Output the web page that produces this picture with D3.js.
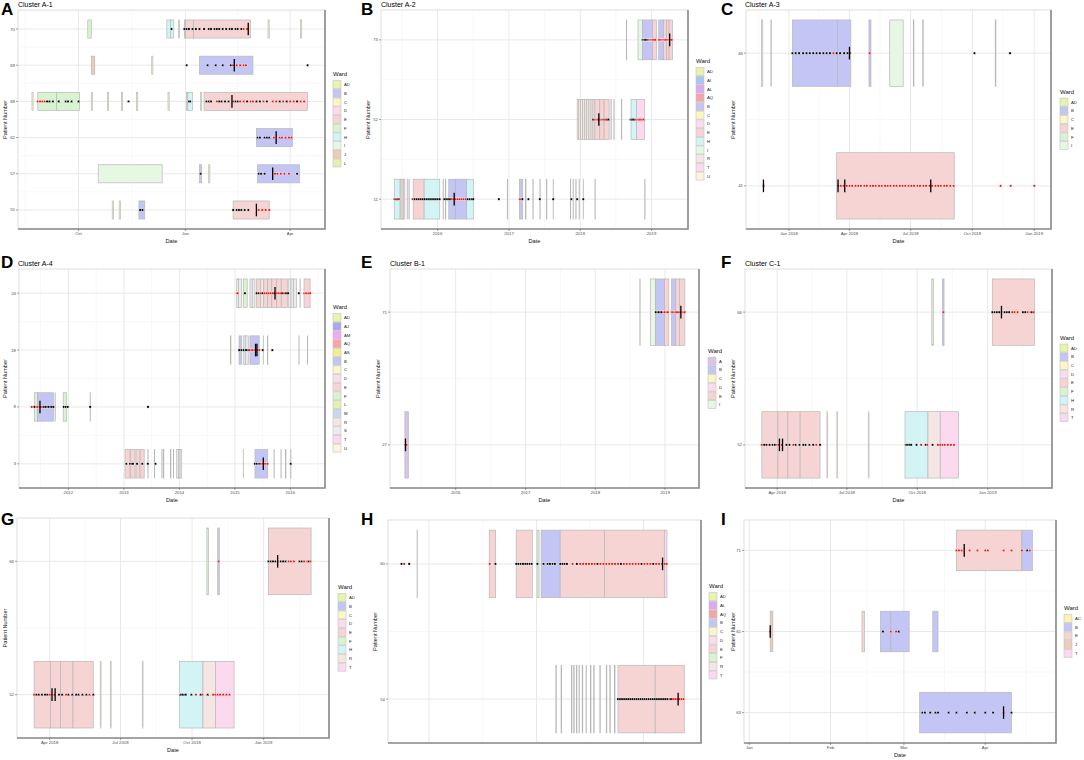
<!DOCTYPE html>
<html>
<head>
<meta charset="utf-8">
<script src="https://d3js.org/d3.v7.min.js"></script>
<style>
  body { margin: 0; background: #fff; }
  svg { font-family: "Liberation Sans", Arial, sans-serif; }
</style>
</head>
<body>
<svg id="svg" width="1084" height="760"></svg>
<script>
// ---------- data ----------
// stays: [patient, ward, start, end]; tests: [patient, date, positive]; seq: [patient, date]

const patientsA = ["70", "69", "68", "62", "57", "55"];
const wardsA = ["AD", "B", "C", "D", "E", "F", "H", "I", "J", "L"];
const ticksA = ["2018-10-01", "2019-01-01", "2019-04-01"];
const tickLabelsA = ["Oct", "Jan", "Apr"];
const limitsA = ["2018-08-10", "2019-05-01"];
const staysA = [
  ["70","F","2018-10-09","2018-10-12"],["70","H","2018-12-16","2018-12-19"],["70","H","2018-12-19","2018-12-22"],
  ["70","C","2018-12-26","2018-12-27"],["70","B","2018-12-31","2019-01-01"],["70","E","2019-01-01","2019-01-08"],
  ["70","E","2019-01-08","2019-02-26"],["70","C","2019-03-13","2019-03-14"],["70","C","2019-04-10","2019-04-11"],
  ["69","J","2018-10-12","2018-10-15"],["69","C","2018-12-03","2018-12-04"],["69","B","2019-01-13","2019-02-28"],
  ["68","C","2018-08-22","2018-08-23"],["68","F","2018-08-27","2018-09-12"],["68","F","2018-09-12","2018-10-02"],
  ["68","C","2018-10-12","2018-10-13"],["68","C","2018-10-26","2018-10-27"],["68","C","2018-11-07","2018-11-08"],
  ["68","C","2018-11-20","2018-11-21"],["68","C","2018-12-17","2018-12-18"],["68","AD","2019-01-02","2019-01-03"],
  ["68","H","2019-01-03","2019-01-07"],["68","C","2019-01-14","2019-01-15"],["68","E","2019-01-17","2019-04-16"],
  ["62","B","2019-03-03","2019-04-03"],
  ["57","I","2018-10-18","2018-12-12"],["57","B","2019-01-13","2019-01-15"],["57","C","2019-01-21","2019-01-22"],
  ["57","B","2019-03-04","2019-04-09"],
  ["55","C","2018-10-30","2018-10-31"],["55","C","2018-11-05","2018-11-06"],["55","B","2018-11-22","2018-11-27"],
  ["55","E","2019-02-11","2019-03-14"]
];
const testsA = [
  ["70","2018-12-20",0],["70","2018-12-31",0],["70","2019-01-02",0],["70","2019-01-04",0],["70","2019-01-07",0],
  ["70","2019-01-10",0],["70","2019-01-13",0],["70","2019-01-17",0],["70","2019-01-21",0],["70","2019-01-23",0],
  ["70","2019-01-26",0],["70","2019-01-28",0],["70","2019-01-30",0],["70","2019-02-02",0],["70","2019-02-05",0],
  ["70","2019-02-08",0],["70","2019-02-10",0],["70","2019-02-13",0],["70","2019-02-15",0],["70","2019-02-18",0],
  ["70","2019-02-20",1],["70","2019-02-23",1],
  ["69","2019-01-02",0],["69","2019-01-20",0],["69","2019-01-27",0],["69","2019-02-02",0],["69","2019-02-09",0],
  ["69","2019-02-11",1],["69","2019-02-14",1],["69","2019-02-17",1],["69","2019-02-20",1],["69","2019-02-22",1],
  ["69","2019-04-16",0],
  ["68","2018-08-27",1],["68","2018-08-29",1],["68","2018-08-31",1],["68","2018-09-02",1],["68","2018-09-04",0],
  ["68","2018-09-06",0],["68","2018-09-09",0],["68","2018-09-14",0],["68","2018-09-20",0],["68","2018-09-22",0],
  ["68","2018-09-25",0],["68","2018-10-01",0],["68","2018-11-13",0],["68","2019-01-04",0],["68","2019-01-05",0],
  ["68","2019-01-19",0],["68","2019-01-21",0],["68","2019-01-23",0],["68","2019-01-28",1],["68","2019-01-30",0],
  ["68","2019-02-01",0],["68","2019-02-04",0],["68","2019-02-07",0],["68","2019-02-11",1],["68","2019-02-13",0],
  ["68","2019-02-15",0],["68","2019-02-17",1],["68","2019-02-20",1],["68","2019-02-23",0],["68","2019-02-26",1],
  ["68","2019-02-28",1],["68","2019-03-03",0],["68","2019-03-06",0],["68","2019-03-09",1],["68","2019-03-12",0],
  ["68","2019-03-17",1],["68","2019-03-20",1],["68","2019-03-23",0],["68","2019-03-26",1],["68","2019-03-29",0],
  ["68","2019-04-01",1],["68","2019-04-04",1],["68","2019-04-07",0],["68","2019-04-10",1],["68","2019-04-13",1],
  ["62","2019-03-04",0],["62","2019-03-06",0],["62","2019-03-10",0],["62","2019-03-12",0],["62","2019-03-14",0],
  ["62","2019-03-18",1],["62","2019-03-23",1],["62","2019-03-25",1],["62","2019-03-28",1],["62","2019-03-31",1],
  ["62","2019-04-02",1],
  ["57","2019-01-14",0],["57","2019-03-05",0],["57","2019-03-07",0],["57","2019-03-10",0],["57","2019-03-19",1],
  ["57","2019-03-21",1],["57","2019-03-24",1],["57","2019-03-27",1],["57","2019-03-31",1],["57","2019-04-07",0],
  ["55","2018-11-23",0],["55","2018-11-25",0],["55","2019-02-11",0],["55","2019-02-14",0],["55","2019-02-16",0],
  ["55","2019-02-18",0],["55","2019-02-21",0],["55","2019-02-24",0],["55","2019-03-05",1],["55","2019-03-08",1],
  ["55","2019-03-11",1],["55","2019-03-14",1]
];
const seqA = [["70","2019-02-24"],["69","2019-02-12"],["68","2019-02-10"],["62","2019-03-20"],["57","2019-03-17"],["55","2019-03-03"]];

const patientsB = ["73", "52", "11"];
const wardsB = ["AD", "AI", "AL", "AQ", "B", "C", "D", "E", "H", "I", "R", "T", "U"];
const ticksB = ["2016-01-01", "2017-01-01", "2018-01-01", "2019-01-01"];
const tickLabelsB = ["2016", "2017", "2018", "2019"];
const limitsB = ["2015-03-17", "2019-07-07"];
const staysB = [
  ["73","R","2018-08-25","2018-08-27"],["73","I","2018-10-24","2018-11-15"],["73","B","2018-11-15","2019-01-06"],
  ["73","E","2019-01-06","2019-01-26"],["73","B","2019-02-07","2019-03-04"],["73","E","2019-03-04","2019-03-20"],
  ["73","E","2019-03-20","2019-04-01"],["73","E","2019-04-01","2019-04-18"],
  ["52","R","2017-12-16","2017-12-24"],["52","R","2017-12-24","2018-01-03"],["52","R","2018-01-03","2018-01-13"],
  ["52","R","2018-01-13","2018-01-24"],["52","R","2018-01-24","2018-02-03"],["52","R","2018-02-03","2018-02-14"],
  ["52","R","2018-02-14","2018-02-25"],["52","R","2018-02-25","2018-03-07"],["52","R","2018-03-07","2018-03-17"],
  ["52","E","2018-03-17","2018-04-11"],["52","E","2018-04-11","2018-05-03"],["52","E","2018-05-03","2018-05-29"],
  ["52","R","2018-06-07","2018-06-09"],["52","R","2018-06-22","2018-06-24"],["52","R","2018-07-31","2018-08-02"],
  ["52","H","2018-09-18","2018-10-16"],["52","T","2018-10-16","2018-11-27"],
  ["11","H","2015-05-24","2015-06-22"],["11","R","2015-06-25","2015-07-03"],["11","R","2015-07-03","2015-07-10"],
  ["11","R","2015-07-10","2015-07-17"],["11","R","2015-07-29","2015-07-31"],["11","R","2015-08-07","2015-08-09"],
  ["11","E","2015-08-29","2015-10-24"],["11","H","2015-10-24","2016-01-12"],["11","R","2016-01-29","2016-01-31"],
  ["11","R","2016-02-10","2016-02-12"],["11","B","2016-02-27","2016-04-02"],["11","B","2016-04-02","2016-05-29"],
  ["11","H","2016-05-29","2016-07-02"],["11","R","2016-12-23","2016-12-25"],["11","B","2017-02-23","2017-03-12"],
  ["11","R","2017-03-27","2017-03-29"],["11","R","2017-05-03","2017-05-05"],["11","R","2017-06-08","2017-06-10"],
  ["11","R","2017-07-12","2017-07-14"],["11","R","2017-08-15","2017-08-17"],["11","R","2017-11-11","2017-11-13"],
  ["11","R","2017-11-25","2017-11-27"],["11","R","2017-12-09","2017-12-11"],["11","R","2017-12-26","2017-12-28"],
  ["11","R","2018-01-16","2018-01-18"],["11","R","2018-03-17","2018-03-19"],["11","R","2018-11-27","2018-11-29"]
];
const testsB = [
  ["73","2018-11-16",0],["73","2018-11-22",0],["73","2018-11-28",0],["73","2018-12-04",0],["73","2018-12-10",0],
  ["73","2018-12-16",0],["73","2018-12-21",1],["73","2018-12-27",1],["73","2019-01-02",1],["73","2019-01-08",1],
  ["73","2019-01-14",1],["73","2019-01-20",1],["73","2019-02-08",1],["73","2019-02-14",1],["73","2019-02-20",1],
  ["73","2019-02-26",1],["73","2019-03-04",1],["73","2019-03-10",1],["73","2019-03-16",1],["73","2019-03-22",1],
  ["73","2019-03-28",1],["73","2019-04-03",1],["73","2019-04-09",1],["73","2019-04-15",1],
  ["52","2018-03-08",0],["52","2018-03-14",0],["52","2018-03-20",1],["52","2018-03-26",1],["52","2018-04-01",1],
  ["52","2018-04-07",0],["52","2018-04-13",1],["52","2018-04-19",1],["52","2018-04-25",1],["52","2018-05-01",0],
  ["52","2018-05-07",1],["52","2018-05-13",1],["52","2018-05-19",0],["52","2018-05-25",0],["52","2018-09-16",0],
  ["52","2018-09-22",0],["52","2018-09-28",0],["52","2018-10-04",0],["52","2018-10-10",0],["52","2018-10-16",1],
  ["52","2018-10-22",1],["52","2018-10-28",1],["52","2018-11-03",1],["52","2018-11-09",1],["52","2018-11-15",1],
  ["52","2018-11-21",1],
  ["11","2015-05-24",1],["11","2015-05-30",0],["11","2015-06-05",0],["11","2015-06-11",0],["11","2015-06-17",1],
  ["11","2015-08-26",1],["11","2015-09-05",0],["11","2015-09-15",0],["11","2015-09-25",0],["11","2015-10-05",0],
  ["11","2015-10-15",0],["11","2015-10-25",0],["11","2015-11-04",0],["11","2015-11-14",0],["11","2015-11-24",0],
  ["11","2015-12-04",0],["11","2015-12-14",0],["11","2015-12-24",0],["11","2016-01-03",0],["11","2016-01-12",0],
  ["11","2016-02-04",0],["11","2016-02-14",0],["11","2016-02-24",0],["11","2016-03-05",0],["11","2016-03-15",1],
  ["11","2016-03-25",1],["11","2016-04-04",1],["11","2016-04-14",1],["11","2016-04-24",1],["11","2016-05-04",1],
  ["11","2016-05-14",1],["11","2016-05-24",1],["11","2016-06-03",0],["11","2016-06-13",0],["11","2016-06-23",0],
  ["11","2016-07-01",0],["11","2016-11-10",0],["11","2017-02-25",1],["11","2017-03-04",1],["11","2017-03-10",0],
  ["11","2017-04-10",0],["11","2017-06-08",0],["11","2017-08-15",0],["11","2017-11-16",0],["11","2017-12-16",0],
  ["11","2018-01-16",0]
];
const seqB = [["73","2019-04-04"],["52","2018-04-06"],["11","2016-03-26"]];

const patientsC = ["46", "41"];
const wardsC = ["AD", "B", "C", "E", "F", "I"];
const ticksC = ["2018-01-01", "2018-04-01", "2018-07-01", "2018-10-01", "2019-01-01"];
const tickLabelsC = ["Jan 2018", "Apr 2018", "Jul 2018", "Oct 2018", "Jan 2019"];
const limitsC = ["2017-10-29", "2019-01-26"];
const staysC = [
  ["46","F","2017-11-21","2017-11-23"],["46","C","2017-12-05","2017-12-06"],["46","B","2018-01-06","2018-03-14"],
  ["46","B","2018-03-14","2018-04-03"],["46","B","2018-04-30","2018-05-03"],["46","I","2018-05-31","2018-06-20"],
  ["46","C","2018-07-05","2018-07-06"],["46","C","2018-07-19","2018-07-20"],["46","C","2018-11-04","2018-11-05"],
  ["41","E","2018-03-13","2018-09-04"]
];
const testsC = [
  ["46","2018-01-06",0],["46","2018-01-11",0],["46","2018-01-16",0],["46","2018-01-22",0],["46","2018-01-27",0],
  ["46","2018-02-01",0],["46","2018-02-06",0],["46","2018-02-11",0],["46","2018-02-16",0],["46","2018-02-21",0],
  ["46","2018-02-26",0],["46","2018-03-03",0],["46","2018-03-08",1],["46","2018-03-13",0],["46","2018-03-18",0],
  ["46","2018-03-24",0],["46","2018-03-29",0],["46","2018-04-02",1],["46","2018-05-01",1],["46","2018-10-04",0],
  ["46","2018-11-26",0],
  ["41","2017-11-24",1],["41","2018-03-15",1],["41","2018-03-19",1],["41","2018-03-23",1],["41","2018-03-28",1],
  ["41","2018-04-01",1],["41","2018-04-05",1],["41","2018-04-10",1],["41","2018-04-14",1],["41","2018-04-18",1],
  ["41","2018-04-23",1],["41","2018-04-27",1],["41","2018-05-02",1],["41","2018-05-06",1],["41","2018-05-10",1],
  ["41","2018-05-15",1],["41","2018-05-19",1],["41","2018-05-24",1],["41","2018-05-28",1],["41","2018-06-01",1],
  ["41","2018-06-06",1],["41","2018-06-10",1],["41","2018-06-15",1],["41","2018-06-19",1],["41","2018-06-23",1],
  ["41","2018-06-28",1],["41","2018-07-02",1],["41","2018-07-06",1],["41","2018-07-11",1],["41","2018-07-15",1],
  ["41","2018-07-20",1],["41","2018-07-24",1],["41","2018-07-29",1],["41","2018-08-02",1],["41","2018-08-07",1],
  ["41","2018-08-11",1],["41","2018-08-15",1],["41","2018-08-20",1],["41","2018-08-24",1],["41","2018-08-29",1],
  ["41","2018-09-03",1],["41","2018-11-12",1],["41","2018-11-27",1],["41","2019-01-01",1]
];
const seqC = [["46","2018-04-01"],["41","2017-11-24"],["41","2018-03-15"],["41","2018-03-25"],["41","2018-07-31"]];

const patientsD = ["24", "18", "8", "3"];
const wardsD = ["AD", "AJ", "AM", "AQ", "AS", "B", "C", "D", "E", "F", "L", "M", "R", "S", "T", "U"];
const ticksD = ["2012-01-01", "2013-01-01", "2014-01-01", "2015-01-01", "2016-01-01"];
const tickLabelsD = ["2012", "2013", "2014", "2015", "2016"];
const limitsD = ["2011-02-10", "2016-08-16"];
const staysD = [
  ["24","S","2015-01-13","2015-01-25"],["24","S","2015-01-25","2015-02-14"],["24","F","2015-02-25","2015-03-23"],
  ["24","S","2015-04-10","2015-04-25"],["24","S","2015-04-25","2015-05-13"],["24","E","2015-05-24","2015-06-20"],
  ["24","R","2015-06-20","2015-07-10"],["24","E","2015-07-10","2015-08-05"],["24","E","2015-08-05","2015-09-01"],
  ["24","E","2015-09-01","2015-10-01"],["24","E","2015-10-01","2015-11-02"],["24","E","2015-11-02","2015-12-12"],
  ["24","S","2015-12-18","2016-01-05"],["24","S","2016-01-05","2016-01-20"],["24","S","2016-01-22","2016-02-11"],
  ["24","S","2016-03-04","2016-03-06"],["24","E","2016-03-31","2016-05-10"],
  ["18","S","2014-12-04","2014-12-06"],["18","B","2015-01-28","2015-02-14"],["18","S","2015-02-25","2015-03-10"],
  ["18","S","2015-03-12","2015-03-30"],["18","B","2015-04-10","2015-06-10"],["18","S","2015-07-07","2015-07-09"],
  ["18","S","2015-08-04","2015-08-06"],["18","S","2016-02-26","2016-02-28"],["18","S","2016-04-22","2016-04-24"],
  ["8","F","2011-05-22","2011-06-13"],["8","B","2011-06-13","2011-09-24"],["8","S","2011-10-05","2011-10-07"],
  ["8","F","2011-11-28","2011-12-21"],["8","S","2012-05-23","2012-05-25"],
  ["3","E","2013-01-08","2013-02-10"],["3","E","2013-02-14","2013-03-15"],["3","E","2013-03-21","2013-04-13"],
  ["3","E","2013-04-21","2013-05-14"],["3","S","2013-06-07","2013-06-09"],["3","S","2013-07-20","2013-07-22"],
  ["3","S","2013-09-07","2013-09-09"],["3","S","2013-09-18","2013-09-20"],["3","S","2013-11-04","2013-11-06"],
  ["3","S","2013-11-22","2013-11-24"],["3","S","2013-12-14","2013-12-25"],["3","S","2013-12-25","2014-01-05"],
  ["3","S","2014-01-05","2014-01-16"],["3","S","2015-02-25","2015-02-27"],["3","B","2015-05-13","2015-08-05"],
  ["3","S","2015-09-15","2015-09-17"],["3","S","2015-10-31","2015-11-02"],["3","S","2015-12-01","2015-12-03"],
  ["3","S","2016-01-03","2016-01-05"]
];
const testsD = [
  ["24","2015-01-13",1],["24","2015-01-20",1],["24","2015-03-08",0],["24","2015-05-24",0],["24","2015-06-05",0],
  ["24","2015-06-18",1],["24","2015-07-01",0],["24","2015-07-14",1],["24","2015-07-27",1],["24","2015-08-09",1],
  ["24","2015-08-22",1],["24","2015-09-04",1],["24","2015-09-17",0],["24","2015-09-30",1],["24","2015-10-13",1],
  ["24","2015-10-26",1],["24","2015-11-08",0],["24","2015-11-21",1],["24","2015-12-04",0],["24","2015-12-17",0],
  ["24","2016-02-26",0],["24","2016-04-01",1],["24","2016-04-10",1],["24","2016-04-20",1],["24","2016-05-01",1],
  ["24","2016-05-10",1],
  ["18","2015-01-29",0],["18","2015-02-12",0],["18","2015-02-27",0],["18","2015-03-15",0],["18","2015-03-30",0],
  ["18","2015-04-10",1],["18","2015-04-20",1],["18","2015-04-30",1],["18","2015-05-10",1],["18","2015-05-20",1],
  ["18","2015-05-30",1],["18","2015-06-10",1],["18","2015-07-03",0],["18","2015-09-04",0],
  ["8","2011-05-05",1],["8","2011-05-15",1],["8","2011-05-25",0],["8","2011-06-05",1],["8","2011-06-15",1],
  ["8","2011-06-25",1],["8","2011-07-05",0],["8","2011-07-15",1],["8","2011-07-25",0],["8","2011-08-05",0],
  ["8","2011-08-15",0],["8","2011-08-25",0],["8","2011-09-05",0],["8","2011-09-15",0],["8","2011-09-24",0],
  ["8","2011-12-02",0],["8","2011-12-15",0],["8","2011-12-28",0],["8","2012-05-23",0],["8","2013-06-08",0],
  ["3","2013-01-16",0],["3","2013-02-10",0],["3","2013-02-22",0],["3","2013-03-01",0],["3","2013-03-28",0],
  ["3","2013-05-01",0],["3","2013-06-07",0],["3","2013-07-27",0],["3","2015-05-13",0],["3","2015-05-24",0],
  ["3","2015-06-04",0],["3","2015-06-12",0],["3","2015-06-22",1],["3","2015-07-03",1],["3","2015-07-14",1],
  ["3","2015-07-25",1],["3","2015-08-03",1],["3","2016-01-03",0]
];
const seqD = [["24","2015-09-22"],["18","2015-05-17"],["18","2015-05-26"],["8","2011-06-28"],["3","2015-07-07"]];

const patientsE = ["71", "27"];
const wardsE = ["A", "B", "C", "D", "E", "I"];
const ticksE = ["2016-01-01", "2017-01-01", "2018-01-01", "2019-01-01"];
const tickLabelsE = ["2016", "2017", "2018", "2019"];
const limitsE = ["2015-01-22", "2019-06-28"];
const staysE = [
  ["71","C","2018-08-22","2018-08-24"],["71","I","2018-10-17","2018-11-13"],["71","B","2018-11-13","2018-12-30"],
  ["71","E","2018-12-30","2019-01-21"],["71","B","2019-02-04","2019-02-26"],["71","E","2019-02-26","2019-03-18"],
  ["71","E","2019-03-18","2019-04-15"],
  ["27","A","2015-04-10","2015-04-28"]
];
const testsE = [
  ["71","2018-11-14",0],["71","2018-11-22",0],["71","2018-11-30",0],["71","2018-12-08",0],["71","2018-12-16",0],
  ["71","2018-12-24",1],["71","2018-12-31",1],["71","2019-01-08",1],["71","2019-01-16",1],["71","2019-02-05",1],
  ["71","2019-02-12",1],["71","2019-02-19",1],["71","2019-02-26",1],["71","2019-03-05",1],["71","2019-03-12",0],
  ["71","2019-03-19",1],["71","2019-03-26",1],["71","2019-04-02",1],["71","2019-04-09",1],["71","2019-04-14",1],
  ["27","2015-04-12",1],["27","2015-04-18",1]
];
const seqE = [["71","2019-03-25"],["27","2015-04-13"]];

// cluster C-1 (panels F and G show the same patients)
const patientsF = ["66", "52"];
const wardsF = ["AD", "B", "C", "D", "E", "F", "H", "R", "T"];
const ticksF = ["2018-04-01", "2018-07-01", "2018-10-01", "2019-01-01"];
const tickLabelsF = ["Apr 2018", "Jul 2018", "Oct 2018", "Jan 2019"];
const limitsF = ["2018-02-18", "2019-03-26"];
const staysF = [
  ["66","F","2018-10-20","2018-10-22"],["66","B","2018-11-03","2018-11-05"],["66","E","2019-01-07","2019-03-03"],
  ["52","E","2018-03-12","2018-04-02"],["52","E","2018-04-02","2018-04-15"],["52","E","2018-04-15","2018-05-01"],
  ["52","E","2018-05-01","2018-05-27"],["52","C","2018-06-05","2018-06-06"],["52","C","2018-06-18","2018-06-19"],
  ["52","C","2018-07-29","2018-07-30"],["52","H","2018-09-15","2018-10-15"],["52","R","2018-10-15","2018-10-31"],
  ["52","T","2018-10-31","2018-11-24"]
];
const testsF = [
  ["66","2018-11-04",1],["66","2019-01-07",0],["66","2019-01-10",0],["66","2019-01-13",0],["66","2019-01-16",0],
  ["66","2019-01-19",1],["66","2019-01-23",0],["66","2019-01-26",0],["66","2019-01-29",0],["66","2019-02-02",1],
  ["66","2019-02-05",1],["66","2019-02-09",1],["66","2019-02-16",0],["66","2019-02-19",0],["66","2019-02-22",1],
  ["66","2019-02-26",1],["66","2019-02-28",0],["66","2019-03-02",1],
  ["52","2018-03-12",1],["52","2018-03-15",0],["52","2018-03-18",0],["52","2018-03-22",0],["52","2018-03-26",0],
  ["52","2018-03-29",0],["52","2018-04-01",1],["52","2018-04-03",1],["52","2018-04-07",1],["52","2018-04-13",0],
  ["52","2018-04-17",0],["52","2018-04-22",1],["52","2018-04-25",0],["52","2018-04-30",0],["52","2018-05-05",0],
  ["52","2018-05-08",0],["52","2018-05-13",0],["52","2018-05-18",0],["52","2018-05-22",1],["52","2018-05-27",0],
  ["52","2018-09-16",0],["52","2018-09-17",0],["52","2018-09-19",0],["52","2018-09-21",0],["52","2018-09-23",0],
  ["52","2018-09-30",0],["52","2018-10-06",1],["52","2018-10-12",0],["52","2018-10-14",1],["52","2018-10-21",0],
  ["52","2018-10-28",1],["52","2018-10-31",1],["52","2018-11-03",1],["52","2018-11-06",1],["52","2018-11-10",1],
  ["52","2018-11-14",1],["52","2018-11-18",1]
];
const seqF = [["66","2019-01-19"],["52","2018-04-04"],["52","2018-04-08"]];

const patientsH = ["60", "54"];
const wardsH = ["AD", "AL", "AQ", "B", "C", "D", "E", "F", "R", "T"];
const ticksH = ["2016-01-01", "2017-01-01", "2018-01-01"];
const tickLabelsH = [];
const limitsH = ["2015-08-14", "2018-07-16"];
const staysH = [
  ["60","R","2015-11-21","2015-11-22"],["60","E","2016-07-24","2016-08-15"],["60","E","2016-10-24","2016-12-18"],
  ["60","F","2017-01-03","2017-01-10"],["60","B","2017-01-17","2017-03-23"],["60","E","2017-03-23","2017-08-21"],
  ["60","E","2017-08-21","2018-03-13"],["60","T","2018-03-13","2018-03-22"],
  ["54","R","2017-03-08","2017-03-10"],["54","R","2017-03-26","2017-03-28"],["54","R","2017-04-30","2017-05-02"],
  ["54","R","2017-05-08","2017-05-10"],["54","R","2017-05-17","2017-05-19"],["54","R","2017-05-26","2017-05-28"],
  ["54","R","2017-06-06","2017-06-08"],["54","R","2017-06-19","2017-06-21"],["54","R","2017-07-04","2017-07-06"],
  ["54","R","2017-07-15","2017-07-17"],["54","R","2017-08-05","2017-08-07"],["54","R","2017-08-27","2017-08-29"],
  ["54","R","2017-09-08","2017-09-10"],["54","R","2017-09-24","2017-09-26"],["54","E","2017-10-06","2018-02-10"],
  ["54","E","2018-02-10","2018-05-20"]
];
const testsH = [
  ["60","2015-09-29",0],["60","2015-10-08",1],["60","2015-10-25",0],["60","2016-07-26",1],["60","2016-08-14",0],
  ["60","2016-10-24",0],["60","2016-10-31",0],["60","2016-11-08",0],["60","2016-11-16",0],["60","2016-11-24",0],
  ["60","2016-12-01",0],["60","2016-12-09",0],["60","2016-12-16",0],["60","2017-01-04",0],["60","2017-01-25",0],
  ["60","2017-02-08",0],["60","2017-02-16",0],["60","2017-02-25",0],["60","2017-03-05",0],["60","2017-03-23",0],
  ["60","2017-03-31",0],["60","2017-04-07",0],["60","2017-04-15",0],["60","2017-05-04",1],["60","2017-05-19",0],
  ["60","2017-05-30",1],["60","2017-06-09",1],["60","2017-06-19",1],["60","2017-06-29",1],["60","2017-07-09",1],
  ["60","2017-07-18",1],["60","2017-07-28",0],["60","2017-08-07",1],["60","2017-08-17",1],["60","2017-08-27",1],
  ["60","2017-09-06",1],["60","2017-09-16",1],["60","2017-09-26",1],["60","2017-10-06",1],["60","2017-10-16",0],
  ["60","2017-10-26",1],["60","2017-11-05",1],["60","2017-11-15",1],["60","2017-11-25",1],["60","2017-12-05",1],
  ["60","2017-12-15",1],["60","2017-12-25",0],["60","2018-01-04",1],["60","2018-01-14",1],["60","2018-01-24",1],
  ["60","2018-02-03",0],["60","2018-02-13",1],["60","2018-02-23",1],["60","2018-03-05",1],["60","2018-03-15",1],
  ["60","2018-03-21",1],
  ["54","2017-10-06",0],["54","2017-10-13",0],["54","2017-10-20",0],["54","2017-10-27",0],["54","2017-11-03",0],
  ["54","2017-11-10",0],["54","2017-11-17",0],["54","2017-11-24",0],["54","2017-12-01",0],["54","2017-12-08",0],
  ["54","2017-12-15",0],["54","2017-12-22",0],["54","2017-12-29",0],["54","2018-01-05",0],["54","2018-01-12",0],
  ["54","2018-01-19",0],["54","2018-01-26",0],["54","2018-02-02",0],["54","2018-02-09",0],["54","2018-02-16",0],
  ["54","2018-02-23",0],["54","2018-03-02",0],["54","2018-03-09",0],["54","2018-03-16",0],["54","2018-03-23",0],
  ["54","2018-03-30",1],["54","2018-04-05",0],["54","2018-04-12",1],["54","2018-04-19",1],["54","2018-04-26",1],
  ["54","2018-05-03",1],["54","2018-05-10",1],["54","2018-05-17",1]
];
const seqH = [["60","2018-03-07"],["54","2018-04-29"]];

const patientsI = ["71", "65", "63"];
const wardsI = ["AC", "B", "E", "J", "T"];
const ticksI = ["2019-01-01", "2019-02-01", "2019-03-01", "2019-04-01"];
const tickLabelsI = ["Jan", "Feb", "Mar", "Apr"];
const limitsI = ["2018-12-30", "2019-04-28"];
const staysI = [
  ["71","E","2019-03-21","2019-04-15"],["71","B","2019-04-15","2019-04-19"],
  ["65","J","2019-01-09","2019-01-10"],["65","E","2019-02-13","2019-02-14"],["65","B","2019-02-20","2019-02-24"],
  ["65","B","2019-02-24","2019-03-03"],["65","B","2019-03-12","2019-03-14"],["65","AC","2019-04-01","2019-04-01"],
  ["65","T","2019-04-08","2019-04-08"],
  ["63","B","2019-03-07","2019-04-11"]
];
const testsI = [
  ["71","2019-03-21",1],["71","2019-03-22",1],["71","2019-03-23",1],["71","2019-03-26",1],["71","2019-03-29",1],
  ["71","2019-04-01",1],["71","2019-04-02",1],["71","2019-04-08",1],["71","2019-04-11",1],["71","2019-04-15",1],
  ["71","2019-04-17",0],["71","2019-04-18",1],
  ["65","2019-01-09",1],["65","2019-02-21",0],["65","2019-02-24",1],["65","2019-02-26",1],["65","2019-02-27",0],
  ["63","2019-03-08",0],["63","2019-03-09",0],["63","2019-03-11",0],["63","2019-03-13",0],["63","2019-03-14",0],
  ["63","2019-03-18",0],["63","2019-03-21",0],["63","2019-03-25",0],["63","2019-03-28",0],["63","2019-04-01",0],
  ["63","2019-04-04",0],["63","2019-04-08",1],["63","2019-04-11",0]
];
const seqI = [["71","2019-03-24"],["65","2019-01-09"],["63","2019-04-08"]];

const wardColors = {
  A: "#dac3e4", AC: "#fbf3b6", AD: "#e6f4ac", AI: "#a9c5f3", AJ: "#aaa7ee", AL: "#dcaaf0", AM: "#f1a9f4",
  AQ: "#f6a4a9", AS: "#f6ec90", B: "#c3c6f4", C: "#fbf6c4", D: "#fadced", E: "#f6d4d3", F: "#d9f3d0",
  H: "#d3f4f4", I: "#e6f7e3", J: "#eccbb7", L: "#e2f1b2", M: "#c9d7ee", R: "#f5e6e3", S: "#ececec",
  T: "#fbdaf0", U: "#fcf4df"
};

// ---------- drawing ----------
const parse = d3.timeParse("%Y-%m-%d");
const svg = d3.select("#svg");
svg.append("rect").attr("width", 1084).attr("height", 760).attr("fill", "#fff");

const panels = [
  {letter:"A", lx:1, ly:15, title:"Cluster A-1", tx:18, ty:7, x0:18, x1:325, y0:10, y1:229, ylabX:7, legX:333,
   patients:patientsA, wards:wardsA, ticks:ticksA, labels:tickLabelsA, limits:limitsA, stays:staysA, tests:testsA, seq:seqA},
  {letter:"B", lx:361, ly:15, title:"Cluster A-2", tx:381, ty:7, x0:381, x1:688, y0:10, y1:229, ylabX:370, legX:696,
   patients:patientsB, wards:wardsB, ticks:ticksB, labels:tickLabelsB, limits:limitsB, stays:staysB, tests:testsB, seq:seqB},
  {letter:"C", lx:721, ly:15, title:"Cluster A-3", tx:745, ty:7, x0:746, x1:1051, y0:10, y1:229, ylabX:735, legX:1060,
   patients:patientsC, wards:wardsC, ticks:ticksC, labels:tickLabelsC, limits:limitsC, stays:staysC, tests:testsC, seq:seqC},
  {letter:"D", lx:1, ly:268, title:"Cluster A-4", tx:18, ty:266, x0:19, x1:325, y0:269, y1:488, ylabX:7, legX:333,
   patients:patientsD, wards:wardsD, ticks:ticksD, labels:tickLabelsD, limits:limitsD, stays:staysD, tests:testsD, seq:seqD},
  {letter:"E", lx:361, ly:268, title:"Cluster B-1", tx:390, ty:266, x0:390, x1:699, y0:269, y1:488, ylabX:380, legX:708,
   patients:patientsE, wards:wardsE, ticks:ticksE, labels:tickLabelsE, limits:limitsE, stays:staysE, tests:testsE, seq:seqE},
  {letter:"F", lx:721, ly:268, title:"Cluster C-1", tx:745, ty:266, x0:745, x1:1052, y0:269, y1:488, ylabX:735, legX:1060,
   cover:[722, 250, 362, 255],
   patients:patientsF, wards:wardsF, ticks:ticksF, labels:tickLabelsF, limits:limitsF, stays:staysF, tests:testsF, seq:seqF},
  {letter:"G", lx:1, ly:525, title:"", x0:17, x1:329, y0:518, y1:738, ylabX:7, legX:338,
   patients:patientsF, wards:wardsF, ticks:ticksF, labels:tickLabelsF, limits:limitsF, stays:staysF, tests:testsF, seq:seqF},
  {letter:"H", lx:361, ly:525, title:"", x0:388, x1:701, y0:520, y1:743, ylabX:377, legX:709,
   patients:patientsH, wards:wardsH, ticks:ticksH, labels:tickLabelsH, limits:limitsH, stays:staysH, tests:testsH, seq:seqH},
  {letter:"I", lx:721, ly:525, title:"", x0:744, x1:1056, y0:520, y1:743, ylabX:735, legX:1064,
   patients:patientsI, wards:wardsI, ticks:ticksI, labels:tickLabelsI, limits:limitsI, stays:staysI, tests:testsI, seq:seqI}
];

function drawPanel(p) {
  const g = svg.append("g");
  if (p.cover) {
    g.append("rect").attr("x", p.cover[0]).attr("y", p.cover[1])
      .attr("width", p.cover[2]).attr("height", p.cover[3]).attr("fill", "#fff");
  }
  const x = d3.scaleTime().domain(p.limits.map(parse)).range([p.x0, p.x1]);
  const n = p.patients.length;
  const pad = 0.05 * (n - 0.5);
  const y = d3.scaleLinear().domain([0.75 - pad, n + 0.25 + pad]).range([p.y1, p.y0]);
  const row = id => n - p.patients.indexOf(id);

  // grid
  const majors = p.ticks.map(parse);
  const ext = [new Date(2 * majors[0] - majors[1]), ...majors,
               new Date(2 * majors[majors.length - 1] - majors[majors.length - 2])];
  const minors = d3.pairs(ext).map(([a, b]) => new Date((+a + +b) / 2))
    .filter(d => d >= x.domain()[0] && d <= x.domain()[1]);
  const yMinor = d3.range(0, n + 1).map(i => i + 0.5).filter(v => v >= y.domain()[0] && v <= y.domain()[1]);

  g.selectAll("line.vmin").data(minors).join("line")
    .attr("x1", d => x(d)).attr("x2", d => x(d)).attr("y1", p.y0).attr("y2", p.y1)
    .attr("stroke", "#f3f3f3").attr("stroke-width", 0.6);
  g.selectAll("line.hmin").data(yMinor).join("line")
    .attr("x1", p.x0).attr("x2", p.x1).attr("y1", d => y(d)).attr("y2", d => y(d))
    .attr("stroke", "#f3f3f3").attr("stroke-width", 0.6);
  g.selectAll("line.vmaj").data(majors).join("line")
    .attr("x1", d => x(d)).attr("x2", d => x(d)).attr("y1", p.y0).attr("y2", p.y1)
    .attr("stroke", "#e6e6e6").attr("stroke-width", 0.9);
  g.selectAll("line.hmaj").data(p.patients).join("line")
    .attr("x1", p.x0).attr("x2", p.x1).attr("y1", d => y(row(d))).attr("y2", d => y(row(d)))
    .attr("stroke", "#e6e6e6").attr("stroke-width", 0.9);

  // ward stays
  g.selectAll("rect.stay").data(p.stays).join("rect")
    .attr("x", d => x(parse(d[2])))
    .attr("width", d => Math.max(0, x(parse(d[3])) - x(parse(d[2]))))
    .attr("y", d => y(row(d[0]) + 0.25))
    .attr("height", d => y(row(d[0]) - 0.25) - y(row(d[0]) + 0.25))
    .attr("fill", d => wardColors[d[1]])
    .attr("stroke", "#b8b8b8").attr("stroke-width", 0.7);

  // tests
  const s = 2.2;
  g.selectAll("rect.test").data(p.tests).join("rect")
    .attr("x", d => x(parse(d[1])) - s / 2).attr("y", d => y(row(d[0])) - s / 2)
    .attr("width", s).attr("height", s)
    .attr("fill", d => d[2] ? "#ee1111" : "#000")
    .attr("stroke", "#fff").attr("stroke-width", 0.35);

  // sequenced isolates
  g.selectAll("line.seq").data(p.seq).join("line")
    .attr("x1", d => x(parse(d[1]))).attr("x2", d => x(parse(d[1])))
    .attr("y1", d => y(row(d[0])) - 6.3).attr("y2", d => y(row(d[0])) + 6.3)
    .attr("stroke", "#000").attr("stroke-width", 1.3);

  // panel border
  g.append("rect").attr("x", p.x0).attr("y", p.y0).attr("width", p.x1 - p.x0).attr("height", p.y1 - p.y0)
    .attr("fill", "none").attr("stroke", "#d6d6d6").attr("stroke-width", 0.8);
  g.append("path").attr("d", `M${p.x1},${p.y0}V${p.y1}H${p.x0}`)
    .attr("fill", "none").attr("stroke", "#8a8a8a").attr("stroke-width", 1.6);

  // y axis
  g.selectAll("line.ytick").data(p.patients).join("line")
    .attr("x1", p.x0 - 2).attr("x2", p.x0).attr("y1", d => y(row(d))).attr("y2", d => y(row(d)))
    .attr("stroke", "#444").attr("stroke-width", 0.5);
  g.selectAll("text.ytick").data(p.patients).join("text")
    .attr("x", p.x0 - 3).attr("y", d => y(row(d)) + 1.5)
    .attr("text-anchor", "end").attr("font-size", 4.3).attr("fill", "#4d4d4d").text(d => d);
  g.append("text")
    .attr("transform", `translate(${p.ylabX},${(p.y0 + p.y1) / 2}) rotate(-90)`)
    .attr("text-anchor", "middle").attr("font-size", 5.6).attr("fill", "#111").text("Patient Number");

  // x axis
  if (p.labels.length) {
    g.selectAll("line.xtick").data(majors).join("line")
      .attr("x1", d => x(d)).attr("x2", d => x(d)).attr("y1", p.y1).attr("y2", p.y1 + 2)
      .attr("stroke", "#444").attr("stroke-width", 0.5);
    g.selectAll("text.xtick").data(majors).join("text")
      .attr("x", d => x(d)).attr("y", p.y1 + 6.3)
      .attr("text-anchor", "middle").attr("font-size", 4.3).attr("fill", "#4d4d4d")
      .text((d, i) => p.labels[i]);
    g.append("text").attr("x", (p.x0 + p.x1) / 2).attr("y", p.y1 + 13.5)
      .attr("text-anchor", "middle").attr("font-size", 5.6).attr("fill", "#111").text("Date");
  }

  // legend
  const step = 8.7, nk = p.wards.length;
  const c0 = (p.y0 + p.y1) / 2 - ((nk - 1) * step + 4.3 - 13) / 2;
  g.append("text").attr("x", p.legX).attr("y", c0 - 8.5)
    .attr("font-size", 6).attr("fill", "#111").text("Ward");
  g.selectAll("rect.key").data(p.wards).join("rect")
    .attr("x", p.legX).attr("y", (d, i) => c0 + i * step - 4)
    .attr("width", 8).attr("height", 8)
    .attr("fill", d => wardColors[d]).attr("stroke", "#c4c4c4").attr("stroke-width", 0.6);
  g.selectAll("text.key").data(p.wards).join("text")
    .attr("x", p.legX + 11).attr("y", (d, i) => c0 + i * step + 1.6)
    .attr("font-size", 4.3).attr("fill", "#222").text(d => d);

  // letter and title
  g.append("text").attr("x", p.lx).attr("y", p.ly)
    .attr("font-size", 17).attr("font-weight", "bold").attr("fill", "#000").text(p.letter);
  if (p.title) {
    g.append("text").attr("x", p.tx).attr("y", p.ty)
      .attr("font-size", 7).attr("fill", "#000").text(p.title);
  }
}

panels.forEach(drawPanel);
</script>
</body>
</html>
